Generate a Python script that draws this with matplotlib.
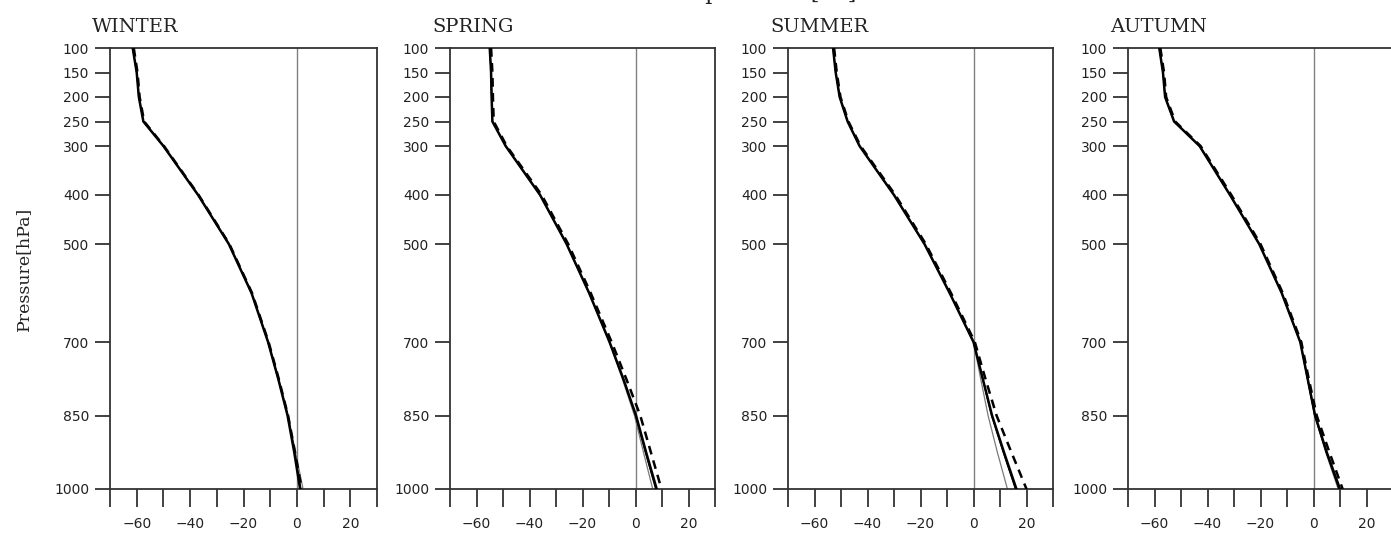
import numpy as np
import matplotlib
matplotlib.use("Agg")
from matplotlib import pyplot as plt

# pressure levels [hPa]
levels = [100, 150, 200, 250, 300, 400, 500, 600, 700, 775, 850, 925, 1000]

seasons = ["WINTER", "SPRING", "SUMMER", "AUTUMN"]

# temperature profiles [degC], one list per season
winter_obs  = [-61.5, -60.0, -59.2, -57.5, -50.0, -37.0, -25.5, -17.0, -10.8, -7.0, -3.5, -1.0, 1.2]
winter_thin = [-61.5, -60.0, -59.2, -57.5, -50.0, -37.0, -25.5, -17.0, -10.8, -7.0, -3.4, -0.8, 1.5]
winter_gray = [-61.5, -60.0, -59.2, -57.5, -50.0, -37.0, -25.5, -17.0, -10.8, -6.9, -3.3, -0.5, 2.3]
winter_dash = [-61.1, -59.7, -58.9, -57.2, -49.8, -36.8, -25.3, -16.8, -10.6, -6.8, -3.3, -0.7, 1.8]

spring_obs  = [-55.0, -54.5, -54.3, -54.0, -49.0, -36.0, -26.0, -17.5, -9.8, -4.6, 0.2, 4.0, 8.0]
spring_thin = [-55.0, -54.5, -54.3, -54.0, -49.0, -36.0, -26.0, -17.5, -9.8, -4.7, 0.0, 3.7, 7.6]
spring_gray = [-55.0, -54.5, -54.3, -54.0, -49.0, -36.0, -26.0, -17.5, -9.9, -5.0, -0.4, 3.0, 6.5]
spring_dash = [-54.5, -54.0, -53.8, -53.5, -48.6, -35.4, -25.4, -16.9, -9.0, -3.5, 1.8, 5.8, 9.8]

summer_obs  = [-53.0, -52.0, -50.5, -47.5, -43.0, -30.0, -18.5, -9.0, 0.0, 3.5, 7.0, 11.5, 16.2]
summer_thin = [-53.0, -52.0, -50.5, -47.5, -43.0, -30.0, -18.5, -9.0, 0.0, 3.4, 6.8, 11.2, 15.8]
summer_gray = [-53.0, -52.0, -50.5, -47.5, -43.0, -30.0, -18.5, -9.0, 0.0, 2.7, 5.5, 9.0, 12.8]
summer_dash = [-52.6, -51.6, -50.2, -47.2, -42.6, -29.5, -18.0, -8.5, 0.5, 4.5, 8.7, 14.3, 20.0]

autumn_obs  = [-58.2, -56.8, -56.0, -52.6, -43.0, -31.5, -20.5, -12.0, -5.0, -2.2, 0.6, 5.0, 10.0]
autumn_thin = [-58.2, -56.8, -56.0, -52.6, -43.0, -31.5, -20.5, -12.0, -5.0, -2.3, 0.5, 4.8, 9.6]
autumn_gray = [-58.2, -56.8, -56.0, -52.6, -43.0, -31.5, -20.5, -12.0, -5.0, -2.3, 0.4, 4.6, 9.3]
autumn_dash = [-57.8, -56.4, -55.6, -52.2, -42.6, -31.0, -20.0, -11.6, -4.6, -1.8, 1.2, 6.0, 11.0]

profiles = [
    (winter_obs, winter_thin, winter_gray, winter_dash),
    (spring_obs, spring_thin, spring_gray, spring_dash),
    (summer_obs, summer_thin, summer_gray, summer_dash),
    (autumn_obs, autumn_thin, autumn_gray, autumn_dash),
]

yticks = [100, 150, 200, 250, 300, 400, 500, 700, 850, 1000]
xticks = list(range(-70, 31, 10))
xticklabels = ["", "\u221260", "", "\u221240", "", "\u221220", "", "0", "", "20", ""]

W, H = 1391, 533
fig = plt.figure(figsize=(W / 100, H / 100), dpi=100)

# axes boxes in pixels: left, top, right, bottom
boxes = [(110, 48, 377, 489), (450, 48, 715, 489), (788, 48, 1053, 489), (1128, 48, 1393, 489)]

spine_col = "#333333"
serif = "DejaVu Serif"

for i, (name, prof, box) in enumerate(zip(seasons, profiles, boxes)):
    l, t, r, b = box
    ax = fig.add_axes([l / W, 1 - b / H, (r - l) / W, (b - t) / H])

    obs, thin, gray, dash = prof
    ax.axvline(0, color="#808080", lw=1.0, zorder=1)
    ax.plot(gray, levels, color="#7a7a7a", lw=0.9, zorder=2)
    ax.plot(thin, levels, color="black", lw=0.9, zorder=3)
    ax.plot(obs, levels, color="black", lw=1.8, zorder=4)
    ax.plot(dash, levels, color="black", lw=1.8, ls=(0, (3.5, 2.5)), zorder=5)

    ax.set_xlim(-70, 30)
    ax.set_ylim(1000, 100)
    ax.set_xticks(xticks)
    ax.set_xticklabels(xticklabels)
    ax.set_yticks(yticks)
    ax.set_yticklabels([str(v) for v in yticks])

    for s in ax.spines.values():
        s.set_color(spine_col)
        s.set_linewidth(1.3)
    ax.tick_params(axis="x", direction="out", length=13, width=1.3, color=spine_col,
                   pad=7, labelsize=10, labelcolor="#222222")
    ax.tick_params(axis="y", direction="out", length=11, width=1.3, color=spine_col,
                   pad=4, labelsize=10, labelcolor="#222222")

    # season title, left aligned a bit left of the axes
    fig.text((l - 18) / W, 1 - 32 / H, name, family=serif, fontsize=14,
             ha="left", va="baseline", color="#222222")

    if i == 0:
        ax.set_ylabel("Pressure[hPa]", family=serif, fontsize=12.5, color="#222222", labelpad=16)

# overall title, mostly cut off at the top edge like in the reference
fig.text(757 / W, 1 + 1 / H, "Temperature [\u00b0C]", family=serif, fontsize=16,
         ha="center", va="baseline", color="#222222")

fig.savefig("out.png", dpi=100)
